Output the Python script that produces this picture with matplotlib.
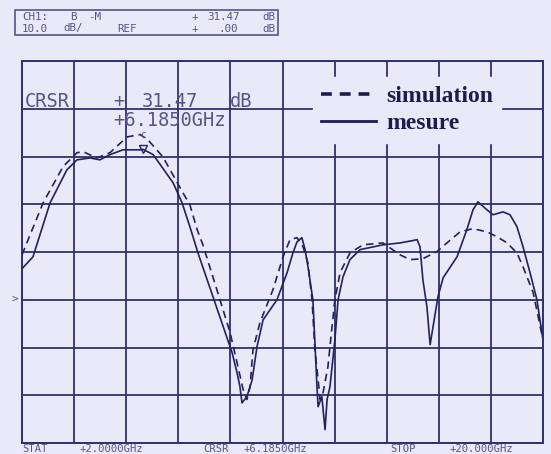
import numpy as np
import matplotlib
matplotlib.use("Agg")
import matplotlib.pyplot as plt
from matplotlib.lines import Line2D

# sweep 2 - 20 GHz, 10 dB/div, reference 0 dB on the 5th division from top
F_START, F_STOP = 2.0, 20.0
DB_TOP, DB_BOTTOM = 50.0, -30.0
CRSR_FREQ, CRSR_DB = 6.185, 31.47

# measured trace (GHz, dB)
meas_f = [2.00, 2.38, 2.97, 3.55, 3.90, 4.35, 4.69, 5.04, 5.49, 6.08, 6.18, 6.53,
          7.22, 7.53, 7.80, 8.08, 9.26, 9.43, 9.53, 9.60, 9.77, 9.95, 10.12, 10.33,
          10.81, 11.16, 11.36, 11.50, 11.67, 11.78, 11.88, 12.05, 12.12, 12.19, 12.23,
          12.36, 12.47, 12.54, 12.64, 12.81, 12.92, 13.09, 13.33, 13.68, 14.47, 15.06,
          15.51, 15.65, 15.75, 15.85, 15.99, 16.10, 16.37, 16.55, 17.03, 17.37, 17.58,
          17.75, 18.07, 18.27, 18.62, 18.86, 19.10, 19.31, 19.55, 19.79, 20.00]
meas_db = [6.5, 9.0, 20.3, 27.2, 29.3, 29.7, 29.3, 30.4, 31.4, 31.4, 31.5, 30.4,
           24.5, 20.3, 15.3, 9.8, -11.1, -15.3, -18.2, -21.6, -20.3, -16.8, -9.8, -4.2,
           0.0, 5.7, 9.8, 12.1, 13.0, 10.5, 6.9, 0.0, -9.0, -18.2, -22.4,
           -20.3, -27.2, -20.9, -18.2, -8.4, 0.0, 4.8, 8.4, 10.5, 11.5, 11.9,
           12.4, 12.6, 11.1, 4.2, -1.5, -9.4, 0.6, 4.6, 9.0, 14.7, 18.8,
           20.5, 18.8, 17.8, 18.4, 17.8, 15.3, 11.1, 5.7, 0.0, -8.4]

# simulated trace (GHz, dB)
sim_f = [2.00, 2.28, 2.73, 3.42, 3.90, 4.11, 4.59, 5.04, 5.63, 6.08, 6.35, 6.87,
         7.56, 7.80, 8.05, 8.25, 8.84, 9.19, 9.43, 9.64, 9.77, 9.88, 9.98, 10.22,
         10.67, 11.02, 11.26, 11.50, 11.71, 11.88, 12.02, 12.12, 12.23, 12.30, 12.40,
         12.57, 12.71, 12.81, 12.99, 13.33, 13.78, 14.47, 15.06, 15.41, 15.85, 16.34,
         16.68, 17.13, 17.58, 18.07, 18.41, 18.76, 19.10, 19.31, 19.66, 20.00]
sim_db = [9.4, 13.6, 20.3, 27.9, 30.8, 31.0, 29.7, 30.8, 34.1, 34.6, 33.5, 29.9,
          22.4, 19.9, 14.7, 11.5, 0.0, -6.9, -13.2, -18.8, -20.9, -18.2, -10.5, -4.8,
          2.1, 9.0, 12.6, 13.0, 11.1, 7.7, 0.0, -10.5, -16.8, -20.9, -19.5,
          -14.0, -5.7, 0.0, 5.7, 9.8, 11.5, 11.9, 9.4, 8.4, 8.6, 10.1,
          11.9, 14.2, 14.9, 14.2, 13.2, 11.9, 9.8, 6.9, 1.5, -8.4]

BG = "#e9e9f7"
GRID = "#30306e"
TRACE = "#222260"
LCD = "#55558c"
INK = "#1c1c4e"

W, H = 551, 454


def px(x, y):
    """Image pixel -> figure fraction."""
    return x / W, 1 - y / H


def put_words(fig, words, y, size, va="center"):
    for x, s in words:
        fx, fy = px(x, y)
        fig.text(fx, fy, s, family="DejaVu Sans Mono", fontsize=size,
                 color=LCD, va=va, ha="left")


fig = plt.figure(figsize=(W / 100, H / 100), dpi=100, facecolor=BG)
l, b = px(22, 443)
r, t = px(543, 61)
ax = fig.add_axes([l, b, r - l, t - b], facecolor=BG)

ax.plot(sim_f, sim_db, color=TRACE, lw=1.2, ls=(0, (4.5, 3)), zorder=3)
ax.plot(meas_f, meas_db, color=TRACE, lw=1.2, zorder=3)

# cursor marker
ax.plot([CRSR_FREQ], [CRSR_DB], marker="v", ms=6, mfc="none", mec=TRACE,
        mew=1.0, zorder=4)
ax.annotate("c", (CRSR_FREQ, CRSR_DB), xytext=(0, 6.5), textcoords="offset points",
            ha="center", va="bottom", family="DejaVu Sans Mono", fontsize=7,
            color=LCD)

ax.set_xlim(F_START, F_STOP)
ax.set_ylim(DB_BOTTOM, DB_TOP)
ax.set_xticks(np.linspace(F_START, F_STOP, 11))
ax.set_yticks(np.linspace(DB_BOTTOM, DB_TOP, 9))
ax.grid(True, color=GRID, lw=1.3, zorder=1)
ax.set_axisbelow(True)
ax.tick_params(length=0, labelbottom=False, labelleft=False)
for sp in ax.spines.values():
    sp.set_color(GRID)
    sp.set_linewidth(1.4)

# reference level marker
ax.text(-0.013, 0, ">", transform=ax.get_yaxis_transform(), ha="center",
        va="center", family="DejaVu Sans Mono", fontsize=8, color=LCD)

handles = [Line2D([], [], color=INK, lw=2.6, ls=(0, (3, 2.2))),
           Line2D([], [], color=INK, lw=2.0)]
leg = ax.legend(handles, ["simulation", "mesure"], loc="upper left",
                bbox_to_anchor=(0.5585, 0.958), frameon=True, facecolor=BG,
                edgecolor=BG, framealpha=1, fancybox=False, handlelength=2.3,
                handletextpad=0.45, labelspacing=0.25, borderpad=0.35,
                borderaxespad=0,
                prop=dict(family="Liberation Serif", weight="bold", size=17))
for txt in leg.get_texts():
    txt.set_color(INK)

# status box at the top
bx0, by0 = px(15, 35)
bx1, by1 = px(278, 10)
fig.patches.append(plt.Rectangle((bx0, by0), bx1 - bx0, by1 - by0, fill=False,
                                 ec=LCD, lw=1.2, transform=fig.transFigure))
put_words(fig, [(22, "CH1:"), (70, "B"), (88, "-M"), (191, "+"), (207, "31.47"),
                (262, "dB")], 16.5, 7.8)
put_words(fig, [(22, "10.0"), (63, "dB/"), (117, "REF"), (191, "+"), (218, ".00"),
                (262, "dB")], 28.5, 7.8)

# cursor readout
put_words(fig, [(25, "CRSR"), (113, "+"), (142, "31.47"), (230, "dB")], 101, 13.5)
put_words(fig, [(113, "+6.1850GHz")], 120, 13.5)

# bottom annotation line
put_words(fig, [(22, "STAT"), (80, "+2.0000GHz"), (203, "CRSR"), (244, "+6.1850GHz"),
                (390, "STOP"), (450, "+20.000GHz")], 451.5, 7.6, va="baseline")

fig.savefig("out.png", dpi=100, facecolor=BG)
